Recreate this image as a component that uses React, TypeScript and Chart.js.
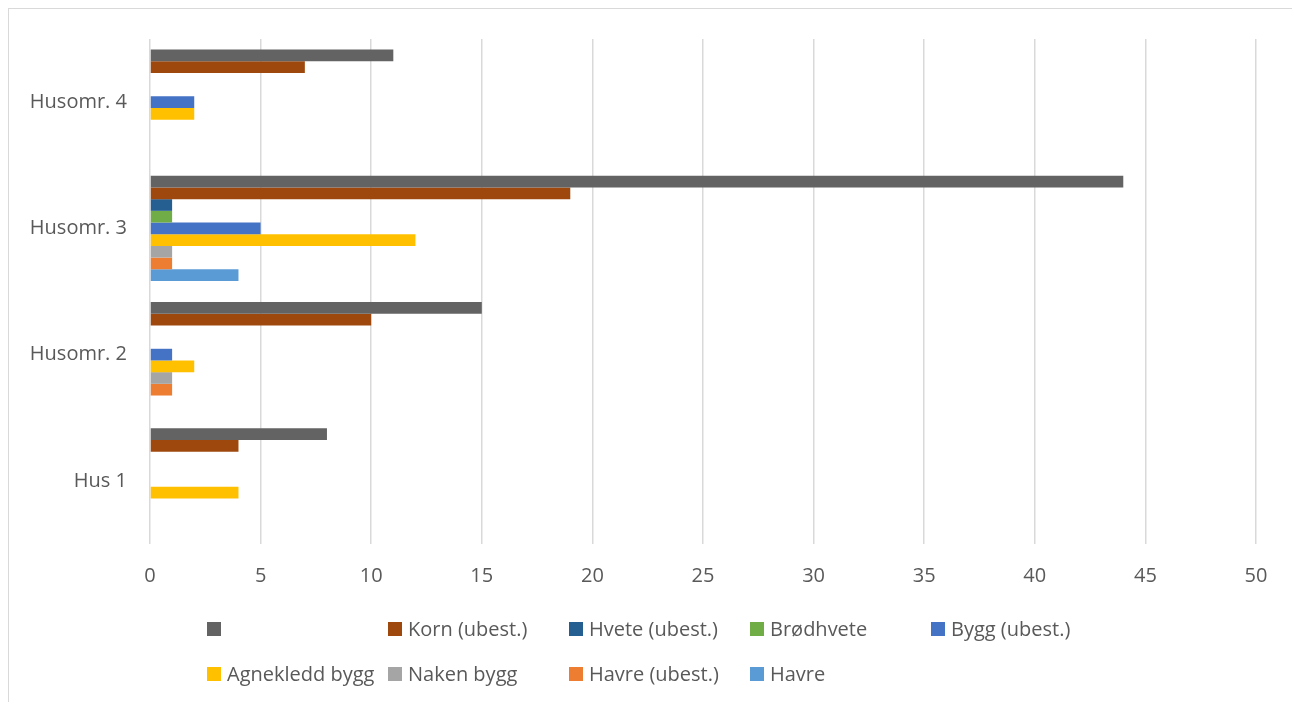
import React, { useEffect, useRef } from "react";
import { Chart, registerables } from "chart.js";

Chart.register(...registerables);

const categories = ["Husomr. 4", "Husomr. 3", "Husomr. 2", "Hus 1"];

const seriesNames = [
  "",
  "Korn (ubest.)",
  "Hvete (ubest.)",
  "Brødhvete",
  "Bygg (ubest.)",
  "Agnekledd bygg",
  "Naken bygg",
  "Havre (ubest.)",
  "Havre",
];

const seriesColors = [
  "#636363",
  "#9E480E",
  "#255E91",
  "#70AD47",
  "#4472C4",
  "#FFC000",
  "#A5A5A5",
  "#ED7D31",
  "#5B9BD5",
];

// values per category in order: Husomr. 4, Husomr. 3, Husomr. 2, Hus 1
const totalValues = [11, 44, 15, 8];
const kornValues = [7, 19, 10, 4];
const hveteValues = [null, 1, null, null];
const brodhveteValues = [null, 1, null, null];
const byggValues = [2, 5, 1, null];
const agnekleddValues = [2, 12, 2, 4];
const nakenValues = [null, 1, 1, null];
const havreUbestValues = [null, 1, 1, null];
const havreValues = [null, 4, null, null];

const seriesValues = [
  totalValues,
  kornValues,
  hveteValues,
  brodhveteValues,
  byggValues,
  agnekleddValues,
  nakenValues,
  havreUbestValues,
  havreValues,
];

const xTicks = [0, 5, 10, 15, 20, 25, 30, 35, 40, 45, 50];

const FONT = "'Open Sans', Lato, sans-serif";
const TEXT = "#595959";
const FONT_SIZE = 20;

const legendPlugin = {
  id: "fixedLegend",
  afterDraw(chart: any) {
    const ctx = chart.ctx;
    const startX = 198;
    const colW = 181;
    const rows = [620, 665];
    const box = 14;
    ctx.save();
    ctx.font = `${FONT_SIZE}px ${FONT}`;
    ctx.textBaseline = "middle";
    ctx.textAlign = "left";
    chart.data.datasets.forEach((ds: any, i: number) => {
      const col = i % 5;
      const row = Math.floor(i / 5);
      const x = startX + col * colW;
      const y = rows[row];
      ctx.fillStyle = ds.backgroundColor;
      ctx.fillRect(x, y - box / 2, box, box);
      ctx.fillStyle = TEXT;
      ctx.fillText(ds.label, x + box + 6, y + 1);
    });
    ctx.restore();
  },
};

export default function App() {
  const ref = useRef<HTMLCanvasElement | null>(null);

  useEffect(() => {
    if (!ref.current) return;
    const chart = new Chart(ref.current, {
      type: "bar",
      data: {
        labels: categories,
        datasets: seriesNames.map((name, i) => ({
          label: name,
          data: seriesValues[i] as any,
          backgroundColor: seriesColors[i],
          borderWidth: 0,
          barPercentage: 1,
          categoryPercentage: 0.833,
        })),
      },
      options: {
        indexAxis: "y",
        animation: false,
        responsive: false,
        maintainAspectRatio: false,
        layout: { autoPadding: false, padding: { left: 0, right: 37, top: 30, bottom: 105 } },
        plugins: {
          legend: { display: false },
          tooltip: { enabled: false },
        },
        scales: {
          x: {
            min: 0,
            max: 50,
            afterBuildTicks: (axis: any) => {
              axis.ticks = xTicks.map((v) => ({ value: v }));
            },
            afterFit: (axis: any) => {
              axis.height = 60;
              axis.paddingLeft = 0;
              axis.paddingRight = 0;
            },
            grid: { color: "#d9d9d9", lineWidth: 1.5, drawTicks: false },
            border: { display: false },
            ticks: {
              color: TEXT,
              font: { family: FONT, size: FONT_SIZE },
              padding: 20,
            },
          },
          y: {
            afterFit: (axis: any) => {
              axis.width = 141;
              axis.paddingTop = 0;
              axis.paddingBottom = 0;
            },
            grid: { display: false, drawTicks: false },
            border: { display: false },
            ticks: {
              color: TEXT,
              font: { family: FONT, size: FONT_SIZE },
              padding: 23,
            },
          },
        },
      },
      plugins: [legendPlugin],
    });
    return () => chart.destroy();
  }, []);

  return (
    <div
      style={{
        width: 1284,
        height: 700,
        border: "1px solid #d9d9d9",
        background: "#fff",
      }}
    >
      <canvas ref={ref} width={1284} height={700} style={{ display: "block", width: 1284, height: 700 }} />
    </div>
  );
}
